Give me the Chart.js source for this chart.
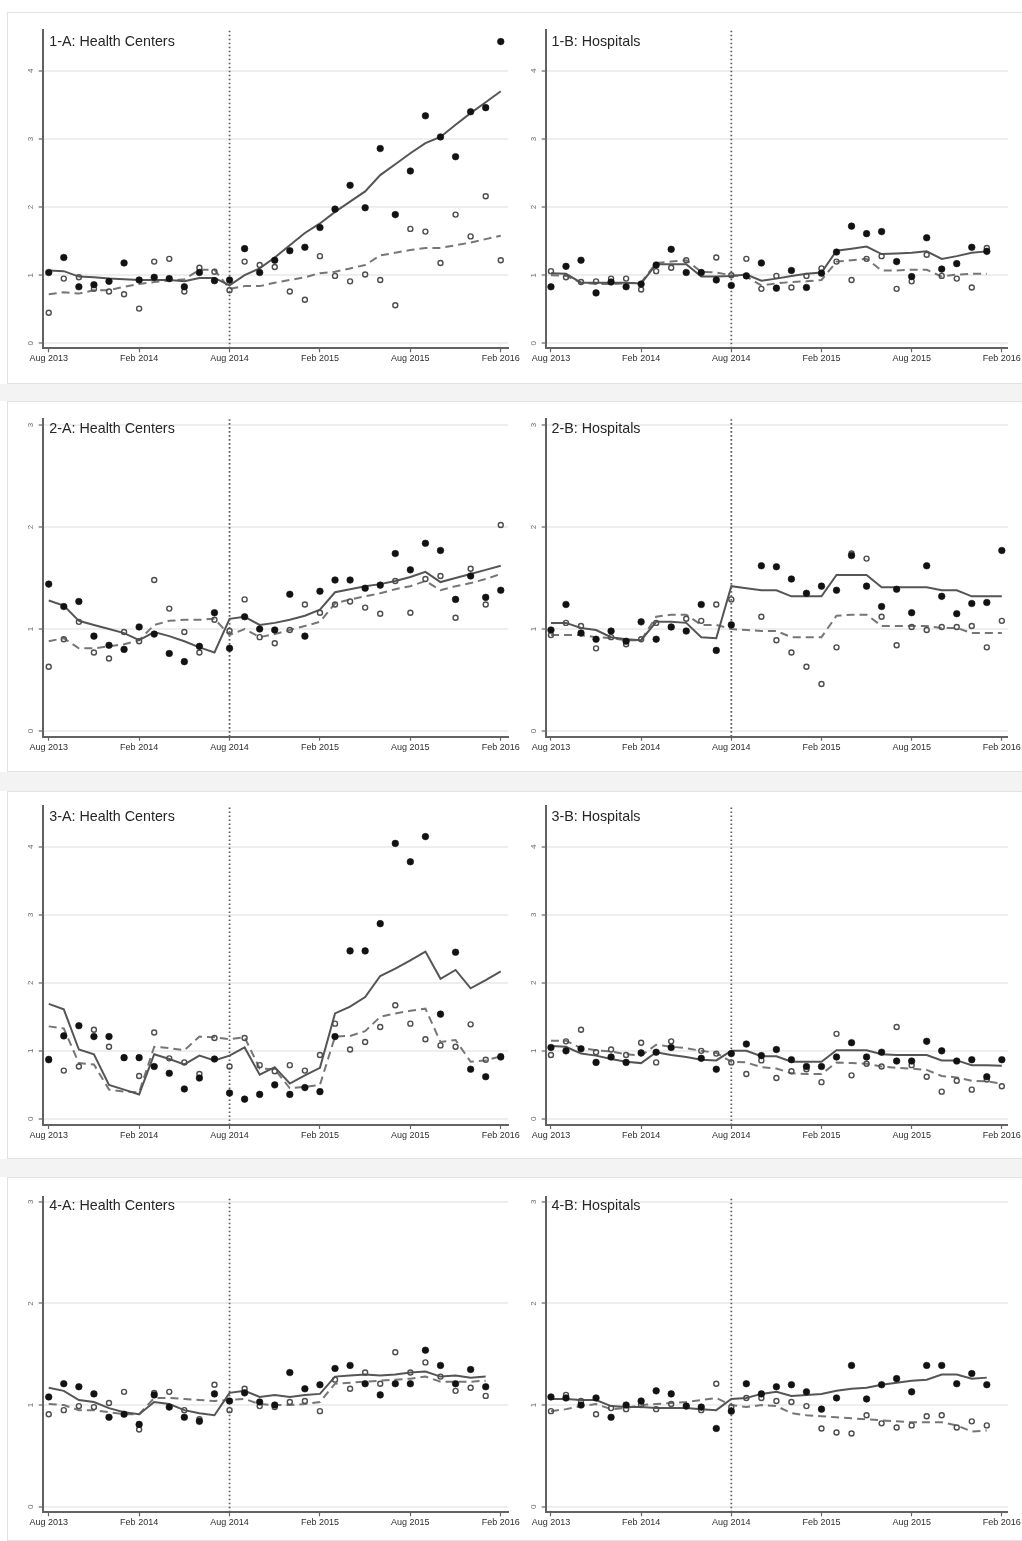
<!DOCTYPE html>
<html>
<head>
<meta charset="utf-8">
<script src="https://cdn.jsdelivr.net/npm/chart.js@4.4.1/dist/chart.umd.min.js"></script>
<style>
  html, body { margin: 0; padding: 0; }
  body { position: relative; width: 1022px; height: 1541px; overflow: hidden; background: #ffffff; }
  .band { position: absolute; left: 0; width: 1022px; background: #f3f3f3; }
  .row { position: absolute; left: 7px; width: 1020px; background: #ffffff; border: 1px solid #e2e2e2; box-sizing: border-box; }
  canvas { position: absolute; }
</style>
</head>
<body>
<script>
// Monthly series, Aug 2013 .. Feb 2016
const months = ['Aug 2013','Sep 2013','Oct 2013','Nov 2013','Dec 2013','Jan 2014','Feb 2014','Mar 2014','Apr 2014','May 2014','Jun 2014','Jul 2014',
                'Aug 2014','Sep 2014','Oct 2014','Nov 2014','Dec 2014','Jan 2015','Feb 2015','Mar 2015','Apr 2015','May 2015','Jun 2015','Jul 2015',
                'Aug 2015','Sep 2015','Oct 2015','Nov 2015','Dec 2015','Jan 2016','Feb 2016'];
const tickMonths = ['Aug 2013','Feb 2014','Aug 2014','Feb 2015','Aug 2015','Feb 2016'];
const policyMonth = 'Aug 2014';
const yTicksTall = [0, 1, 2, 3, 4];
const yTicksShort = [0, 1, 2, 3];

// 1-A: Health Centers
const p1A_dots      = [1.04,1.26,0.83,0.86,0.91,1.18,0.93,0.97,0.95,0.83,1.04,0.92,0.93,1.39,1.04,1.22,1.36,1.41,1.70,1.97,2.32,1.99,2.86,1.89,2.53,3.34,3.03,2.74,3.40,3.46,4.43];
const p1A_open      = [0.45,0.95,0.97,0.80,0.76,0.72,0.51,1.20,1.24,0.76,1.11,1.05,0.78,1.20,1.15,1.12,0.76,0.64,1.28,0.99,0.91,1.01,0.93,0.56,1.68,1.64,1.18,1.89,1.57,2.16,1.22];
const p1A_trend     = [1.07,1.06,0.98,0.97,0.95,0.94,0.93,0.93,0.93,0.91,0.96,0.96,0.85,1.00,1.10,1.26,1.44,1.62,1.76,1.93,2.08,2.23,2.47,2.63,2.79,2.94,3.03,3.21,3.38,3.54,3.70];
const p1A_trendDash = [0.72,0.75,0.73,0.78,0.78,0.83,0.87,0.90,0.92,0.94,1.08,1.08,0.80,0.84,0.84,0.89,0.93,0.97,1.03,1.05,1.10,1.15,1.29,1.33,1.37,1.40,1.40,1.44,1.48,1.53,1.58];

// 1-B: Hospitals
const p1B_dots      = [0.83,1.13,1.22,0.74,0.90,0.83,0.87,1.15,1.38,1.04,1.04,0.93,0.85,0.99,1.18,0.81,1.07,0.82,1.03,1.34,1.72,1.61,1.64,1.20,0.98,1.55,1.09,1.17,1.41,1.35,null];
const p1B_open      = [1.06,0.97,0.90,0.91,0.95,0.95,0.79,1.06,1.11,1.22,1.04,1.26,1.00,1.24,0.80,0.99,0.82,0.99,1.10,1.20,0.93,1.24,1.28,0.80,0.91,1.30,0.99,0.95,0.82,1.40,null];
const p1B_trend     = [1.03,1.02,0.89,0.89,0.89,0.89,0.88,1.16,1.16,1.16,0.98,0.98,0.99,1.01,0.92,0.95,0.99,1.02,1.04,1.36,1.39,1.42,1.31,1.32,1.33,1.35,1.24,1.28,1.33,1.35,null];
const p1B_trendDash = [1.00,0.99,0.89,0.87,0.87,0.88,0.89,1.18,1.20,1.22,1.05,1.04,1.00,0.98,0.85,0.88,0.90,0.91,0.93,1.20,1.22,1.24,1.07,1.07,1.08,1.08,0.98,1.01,1.02,1.02,null];

// 2-A: Health Centers
const p2A_dots      = [1.44,1.22,1.27,0.93,0.84,0.80,1.02,0.95,0.76,0.68,0.83,1.16,0.81,1.12,1.00,0.99,1.34,0.93,1.37,1.48,1.48,1.40,1.43,1.74,1.58,1.84,1.77,1.29,1.52,1.31,1.38];
const p2A_open      = [0.63,0.90,1.07,0.77,0.71,0.97,0.88,1.48,1.20,0.97,0.77,1.09,0.98,1.29,0.92,0.86,0.99,1.24,1.16,1.24,1.27,1.21,1.15,1.47,1.16,1.49,1.52,1.11,1.59,1.24,2.02];
const p2A_trend     = [1.28,1.23,1.08,1.04,1.00,0.96,0.89,0.97,0.93,0.88,0.82,0.77,1.10,1.12,1.04,1.06,1.09,1.13,1.19,1.36,1.39,1.42,1.44,1.47,1.51,1.56,1.46,1.50,1.54,1.58,1.62];
const p2A_trendDash = [0.88,0.91,0.81,0.81,0.83,0.85,0.89,1.04,1.08,1.09,1.09,1.10,0.94,1.00,0.92,0.95,0.99,1.03,1.07,1.25,1.29,1.32,1.35,1.39,1.42,1.47,1.38,1.42,1.45,1.49,1.54];

// 2-B: Hospitals
const p2B_dots      = [0.99,1.24,0.96,0.90,0.98,0.88,1.07,0.90,1.02,0.98,1.24,0.79,1.04,null,1.62,1.61,1.49,1.35,1.42,1.38,1.72,1.42,1.22,1.39,1.16,1.62,1.32,1.15,1.25,1.26,1.77];
const p2B_open      = [0.94,1.06,1.03,0.81,0.92,0.85,0.90,1.06,1.02,1.10,1.08,1.24,1.29,null,1.12,0.89,0.77,0.63,0.46,0.82,1.74,1.69,1.12,0.84,1.02,0.99,1.02,1.02,1.03,0.82,1.08];
const p2B_trend     = [1.06,1.06,1.01,0.99,0.92,0.90,0.89,1.07,1.07,1.06,0.92,0.91,1.42,1.40,1.38,1.38,1.32,1.32,1.32,1.53,1.53,1.53,1.41,1.41,1.41,1.41,1.38,1.38,1.32,1.32,1.32];
const p2B_trendDash = [0.94,0.94,0.94,0.92,0.91,0.89,0.89,1.12,1.14,1.14,1.04,1.04,1.00,0.99,0.98,0.98,0.92,0.92,0.92,1.13,1.14,1.14,1.03,1.03,1.03,1.03,1.01,1.01,0.96,0.96,0.96];

// 3-A: Health Centers
const p3A_dots      = [0.87,1.22,1.37,1.21,1.21,0.90,0.90,0.77,0.67,0.44,0.60,0.88,0.38,0.29,0.36,0.50,0.36,0.46,0.40,1.21,2.47,2.47,2.87,4.05,3.78,4.15,1.54,2.45,0.73,0.62,0.91];
const p3A_open      = [0.88,0.71,0.77,1.31,1.06,0.90,0.63,1.27,0.89,0.83,0.66,1.19,0.77,1.19,0.79,0.70,0.79,0.71,0.94,1.40,1.02,1.13,1.35,1.67,1.40,1.17,1.08,1.06,1.39,0.87,0.92];
const p3A_trend     = [1.69,1.61,1.02,0.95,0.50,0.43,0.36,0.95,0.88,0.80,0.93,0.86,0.93,1.05,0.65,0.76,0.52,0.64,0.75,1.55,1.65,1.79,2.10,2.21,2.33,2.46,2.06,2.19,1.92,2.04,2.17];
const p3A_trendDash = [1.36,1.33,0.82,0.80,0.43,0.40,0.39,1.06,1.04,1.01,1.21,1.20,1.17,1.20,0.74,0.73,0.45,0.47,0.50,1.21,1.22,1.29,1.50,1.55,1.59,1.62,1.13,1.16,0.84,0.86,0.92];

// 3-B: Hospitals
const p3B_dots      = [1.05,1.00,1.03,0.83,0.91,0.83,0.97,0.98,1.05,null,0.89,0.73,0.96,1.10,0.93,1.02,0.87,0.77,0.77,0.91,1.12,0.91,0.98,0.85,0.85,1.14,1.00,0.85,0.87,0.62,0.87];
const p3B_open      = [0.94,1.14,1.31,0.98,1.02,0.94,1.12,0.83,1.14,null,1.00,0.96,0.83,0.66,0.86,0.60,0.70,0.73,0.54,1.25,0.64,0.81,0.77,1.35,0.79,0.62,0.40,0.56,0.43,0.58,0.48];
const p3B_trend     = [1.07,1.06,0.96,0.93,0.88,0.84,0.82,0.98,0.94,0.91,0.87,0.86,1.00,1.00,0.92,0.92,0.84,0.84,0.84,1.01,1.01,1.01,0.95,0.94,0.94,0.94,0.86,0.86,0.79,0.79,0.78];
const p3B_trendDash = [1.15,1.15,1.04,1.01,0.99,0.95,0.93,1.09,1.06,1.04,1.00,0.97,0.84,0.83,0.76,0.74,0.67,0.66,0.66,0.83,0.82,0.81,0.77,0.75,0.74,0.72,0.63,0.61,0.56,0.55,0.52];

// 4-A: Health Centers
const p4A_dots      = [1.08,1.21,1.18,1.11,0.88,0.91,0.81,1.10,0.98,0.88,0.84,1.11,1.04,1.12,1.03,1.00,1.32,1.16,1.20,1.36,1.39,1.21,1.10,1.21,1.21,1.54,1.39,1.21,1.35,1.18,null];
const p4A_open      = [0.91,0.95,0.99,0.98,1.02,1.13,0.76,1.12,1.13,0.95,0.86,1.20,0.95,1.16,0.99,0.98,1.03,1.04,0.94,1.25,1.16,1.32,1.21,1.52,1.32,1.42,1.28,1.14,1.17,1.09,null];
const p4A_trend     = [1.17,1.14,1.05,1.03,0.97,0.93,0.91,1.03,1.01,0.95,0.92,0.90,1.12,1.14,1.08,1.10,1.08,1.10,1.11,1.28,1.29,1.30,1.29,1.30,1.32,1.33,1.28,1.29,1.27,1.28,null];
const p4A_trendDash = [1.01,1.00,0.95,0.95,0.93,0.91,0.91,1.07,1.07,1.06,1.05,1.04,1.05,1.06,1.01,1.00,1.00,1.01,1.03,1.21,1.22,1.23,1.24,1.25,1.26,1.28,1.23,1.23,1.23,1.24,null];

// 4-B: Hospitals
const p4B_dots      = [1.08,1.07,1.00,1.07,0.88,1.00,1.04,1.14,1.11,0.99,0.98,0.77,0.94,1.21,1.11,1.18,1.20,1.13,0.96,1.07,1.39,1.06,1.20,1.26,1.13,1.39,1.39,1.21,1.31,1.20,null];
const p4B_open      = [0.94,1.10,1.04,0.91,0.97,0.96,1.00,0.96,1.01,0.99,0.95,1.21,0.98,1.07,1.07,1.04,1.03,0.99,0.77,0.73,0.72,0.90,0.82,0.78,0.80,0.89,0.90,0.78,0.84,0.80,null];
const p4B_trend     = [1.06,1.06,1.05,1.05,0.99,0.98,0.98,0.97,0.97,0.97,0.96,0.95,1.06,1.07,1.11,1.13,1.09,1.10,1.11,1.14,1.16,1.17,1.20,1.22,1.24,1.25,1.30,1.30,1.26,1.27,null];
const p4B_trendDash = [0.94,0.96,0.99,1.01,0.96,0.97,1.00,1.01,1.02,1.03,1.05,1.07,1.00,0.98,1.00,0.99,0.92,0.90,0.89,0.88,0.87,0.86,0.85,0.84,0.83,0.83,0.83,0.80,0.74,0.75,null];

// ---- layout of the 4 x 2 grid (page pixels) ----
const rowLayout = [
  { top: 12,   height: 372, padTop: 18,   padBottom: 15.7, yMin: -0.073, yMax: 4.6,   ticks: yTicksTall,  titleOffset: 11.7 },
  { top: 401,  height: 371, padTop: 18.3, padBottom: 15.3, yMin: -0.056, yMax: 3.056, ticks: yTicksShort, titleOffset: 10 },
  { top: 791,  height: 368, padTop: 15,   padBottom: 14,   yMin: -0.09,  yMax: 4.6,   ticks: yTicksTall,  titleOffset: 11.3 },
  { top: 1177, height: 364, padTop: 19.7, padBottom: 8.7,  yMin: -0.055, yMax: 3.05,  ticks: yTicksShort, titleOffset: 9 }
];
const colLayout = [
  { left: 0,   width: 525, padLeft: 12.7, padRight: 16.7, xMin: -0.4,  xMax: 30.5 },
  { left: 515, width: 507, padLeft: 0.7,  padRight: 11.7, xMin: -0.35, xMax: 30.4 }
];

const panels = [
  { title: '1-A: Health Centers', row: 0, col: 0, dots: p1A_dots, open: p1A_open, trend: p1A_trend, dash: p1A_trendDash },
  { title: '1-B: Hospitals',      row: 0, col: 1, dots: p1B_dots, open: p1B_open, trend: p1B_trend, dash: p1B_trendDash },
  { title: '2-A: Health Centers', row: 1, col: 0, dots: p2A_dots, open: p2A_open, trend: p2A_trend, dash: p2A_trendDash },
  { title: '2-B: Hospitals',      row: 1, col: 1, dots: p2B_dots, open: p2B_open, trend: p2B_trend, dash: p2B_trendDash },
  { title: '3-A: Health Centers', row: 2, col: 0, dots: p3A_dots, open: p3A_open, trend: p3A_trend, dash: p3A_trendDash },
  { title: '3-B: Hospitals',      row: 2, col: 1, dots: p3B_dots, open: p3B_open, trend: p3B_trend, dash: p3B_trendDash },
  { title: '4-A: Health Centers', row: 3, col: 0, dots: p4A_dots, open: p4A_open, trend: p4A_trend, dash: p4A_trendDash },
  { title: '4-B: Hospitals',      row: 3, col: 1, dots: p4B_dots, open: p4B_open, trend: p4B_trend, dash: p4B_trendDash }
];

const FONT = '"Liberation Sans", Arial, Helvetica, sans-serif';
Chart.defaults.font.family = FONT;

// panel boxes and the grey bands between them
rowLayout.forEach((r, i) => {
  const box = document.createElement('div');
  box.className = 'row';
  box.style.top = r.top + 'px';
  box.style.height = r.height + 'px';
  document.body.appendChild(box);
  if (i > 0) {
    const prev = rowLayout[i - 1];
    const band = document.createElement('div');
    band.className = 'band';
    band.style.top = (prev.top + prev.height) + 'px';
    band.style.height = (r.top - prev.top - prev.height) + 'px';
    document.body.appendChild(band);
  }
});

// panel label drawn inside the plot, at the first month
const panelTitle = {
  id: 'panelTitle',
  afterDraw(chart, args, opts) {
    const { ctx, chartArea, scales } = chart;
    ctx.save();
    ctx.font = '14.3px ' + FONT;
    ctx.fillStyle = '#262626';
    ctx.textAlign = 'left';
    ctx.textBaseline = 'middle';
    ctx.fillText(opts.text, scales.x.getPixelForValue(0) + 0.5, chartArea.top + opts.offset);
    ctx.restore();
  }
};

const toPoints = arr => arr.map((v, i) => ({ x: i, y: v }));

function drawPanel(p) {
  const r = rowLayout[p.row];
  const c = colLayout[p.col];
  const canvas = document.createElement('canvas');
  canvas.width = c.width;
  canvas.height = r.height;
  canvas.style.left = c.left + 'px';
  canvas.style.top = r.top + 'px';
  canvas.style.width = c.width + 'px';
  canvas.style.height = r.height + 'px';
  document.body.appendChild(canvas);

  const policyX = months.indexOf(policyMonth);

  new Chart(canvas, {
    type: 'line',
    data: {
      datasets: [
        { data: toPoints(p.dots), showLine: false, pointRadius: 3.3, pointBackgroundColor: '#121212',
          pointBorderColor: '#121212', pointBorderWidth: 0.6, clip: false },
        { data: toPoints(p.open), showLine: false, pointRadius: 2.5, pointBackgroundColor: 'rgba(255,255,255,0)',
          pointBorderColor: '#4e4e4e', pointBorderWidth: 1.4, clip: false },
        { data: toPoints(p.trend), borderColor: '#555555', borderWidth: 2, pointRadius: 0,
          tension: 0, spanGaps: true, clip: false },
        { data: toPoints(p.dash), borderColor: '#767676', borderWidth: 2, borderDash: [8, 5], pointRadius: 0,
          tension: 0, spanGaps: true, clip: false },
        { data: [{ x: policyX, y: r.yMin }, { x: policyX, y: r.yMax }], borderColor: '#5e5e5e', borderWidth: 1.8,
          borderDash: [1.6, 2.4], pointRadius: 0, clip: false }
      ]
    },
    options: {
      responsive: false,
      animation: false,
      devicePixelRatio: 1,
      events: [],
      layout: { autoPadding: false, padding: { left: c.padLeft, right: c.padRight, top: r.padTop, bottom: r.padBottom } },
      plugins: { legend: { display: false }, tooltip: { enabled: false }, panelTitle: { text: p.title, offset: r.titleOffset } },
      scales: {
        x: {
          type: 'linear', min: c.xMin, max: c.xMax,
          afterBuildTicks: s => { s.ticks = tickMonths.map(m => ({ value: months.indexOf(m) })); },
          afterFit: s => { s.height = 20; },
          ticks: { callback: v => months[v], autoSkip: false, maxRotation: 0, minRotation: 0, padding: 1,
                   color: '#2e2e2e', font: { size: 9 } },
          grid: { drawOnChartArea: false, drawTicks: true, tickLength: 4, tickColor: '#666666', tickWidth: 1.2 },
          border: { display: true, color: '#626262', width: 2 }
        },
        y: {
          type: 'linear', min: r.yMin, max: r.yMax,
          afterBuildTicks: s => { s.ticks = r.ticks.map(v => ({ value: v })); },
          afterFit: s => { s.width = 30; },
          ticks: { minRotation: 90, maxRotation: 90, crossAlign: 'center', padding: 6,
                   color: '#6a6a6a', font: { size: 8 } },
          grid: { color: '#eeeeee', lineWidth: 2, drawTicks: true, tickLength: 4, tickColor: '#666666', tickWidth: 1.2 },
          border: { display: true, color: '#626262', width: 2 }
        }
      }
    },
    plugins: [panelTitle]
  });
}

panels.forEach(drawPanel);
</script>
</body>
</html>
